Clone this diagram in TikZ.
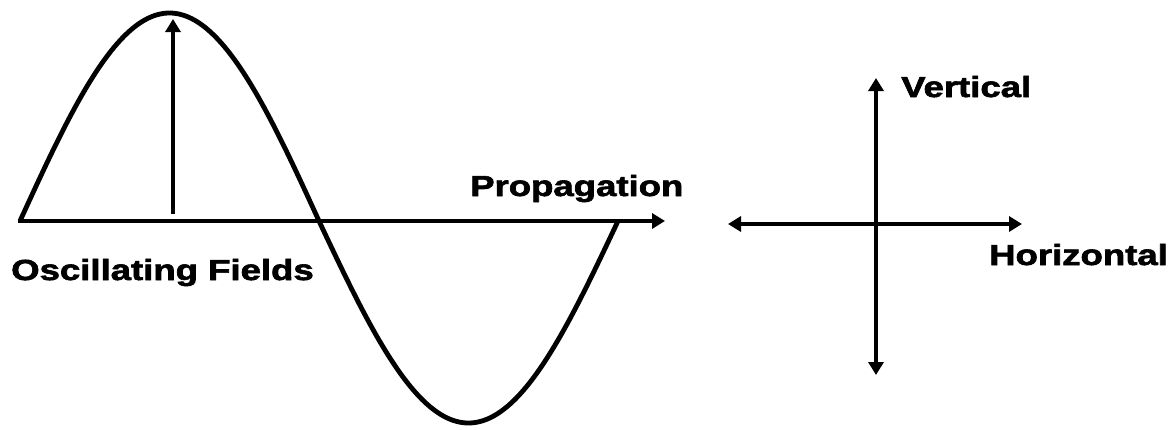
\documentclass[tikz,border=0pt]{standalone}
\usepackage{fontspec}
\setmainfont{Liberation Sans}[BoldFeatures={FakeBold=2}]
\usetikzlibrary{arrows.meta}
\newcommand{\wide}[1]{\scalebox{1.26}[1]{#1}}
\tikzset{
  line/.style={line width=4.8pt},
  tip/.style={-{Triangle[length=13pt,width=15pt]}},
  lbl/.style={font=\bfseries\fontsize{29}{32}\selectfont, inner sep=0pt, anchor=base west},
}
\begin{document}
\begin{tikzpicture}[x=1pt,y=-1pt]
\useasboundingbox (0,0) rectangle (1173,429);
% wave
\draw[line] plot[domain=0:598, samples=300, smooth] ({20+\x},{221-205*sin(\x*0.602007)-3*abs(sin(\x*0.602007))});
% propagation axis
\coordinate (a0) at (18,221);
\coordinate (a1) at (665,221);
\draw[line,tip] (a0) -- (a1);
% field arrow
\coordinate (f0) at (173,214);
\coordinate (f1) at (173,19);
\draw[line,tip] (f0) -- (f1);
% cross
\coordinate (vt) at (876,78);
\coordinate (vb) at (876,375);
\coordinate (hl) at (728,224);
\coordinate (hr) at (1022,224);
\draw[line,{Triangle[length=13pt,width=15pt]}-{Triangle[length=13pt,width=15pt]}] (vb) -- (vt);
\draw[line,{Triangle[length=13pt,width=15pt]}-{Triangle[length=13pt,width=15pt]}] (hl) -- (hr);
% labels
\node[lbl] (prop) at (470,196) {\wide{Propagation}};
\node[lbl] (osc) at (11,280) {\wide{Oscillating Fields}};
\node[lbl] (vert) at (901,97) {\wide{Vertical}};
\node[lbl] (hor) at (989,265) {\wide{Horizontal}};
\end{tikzpicture}
\end{document}
